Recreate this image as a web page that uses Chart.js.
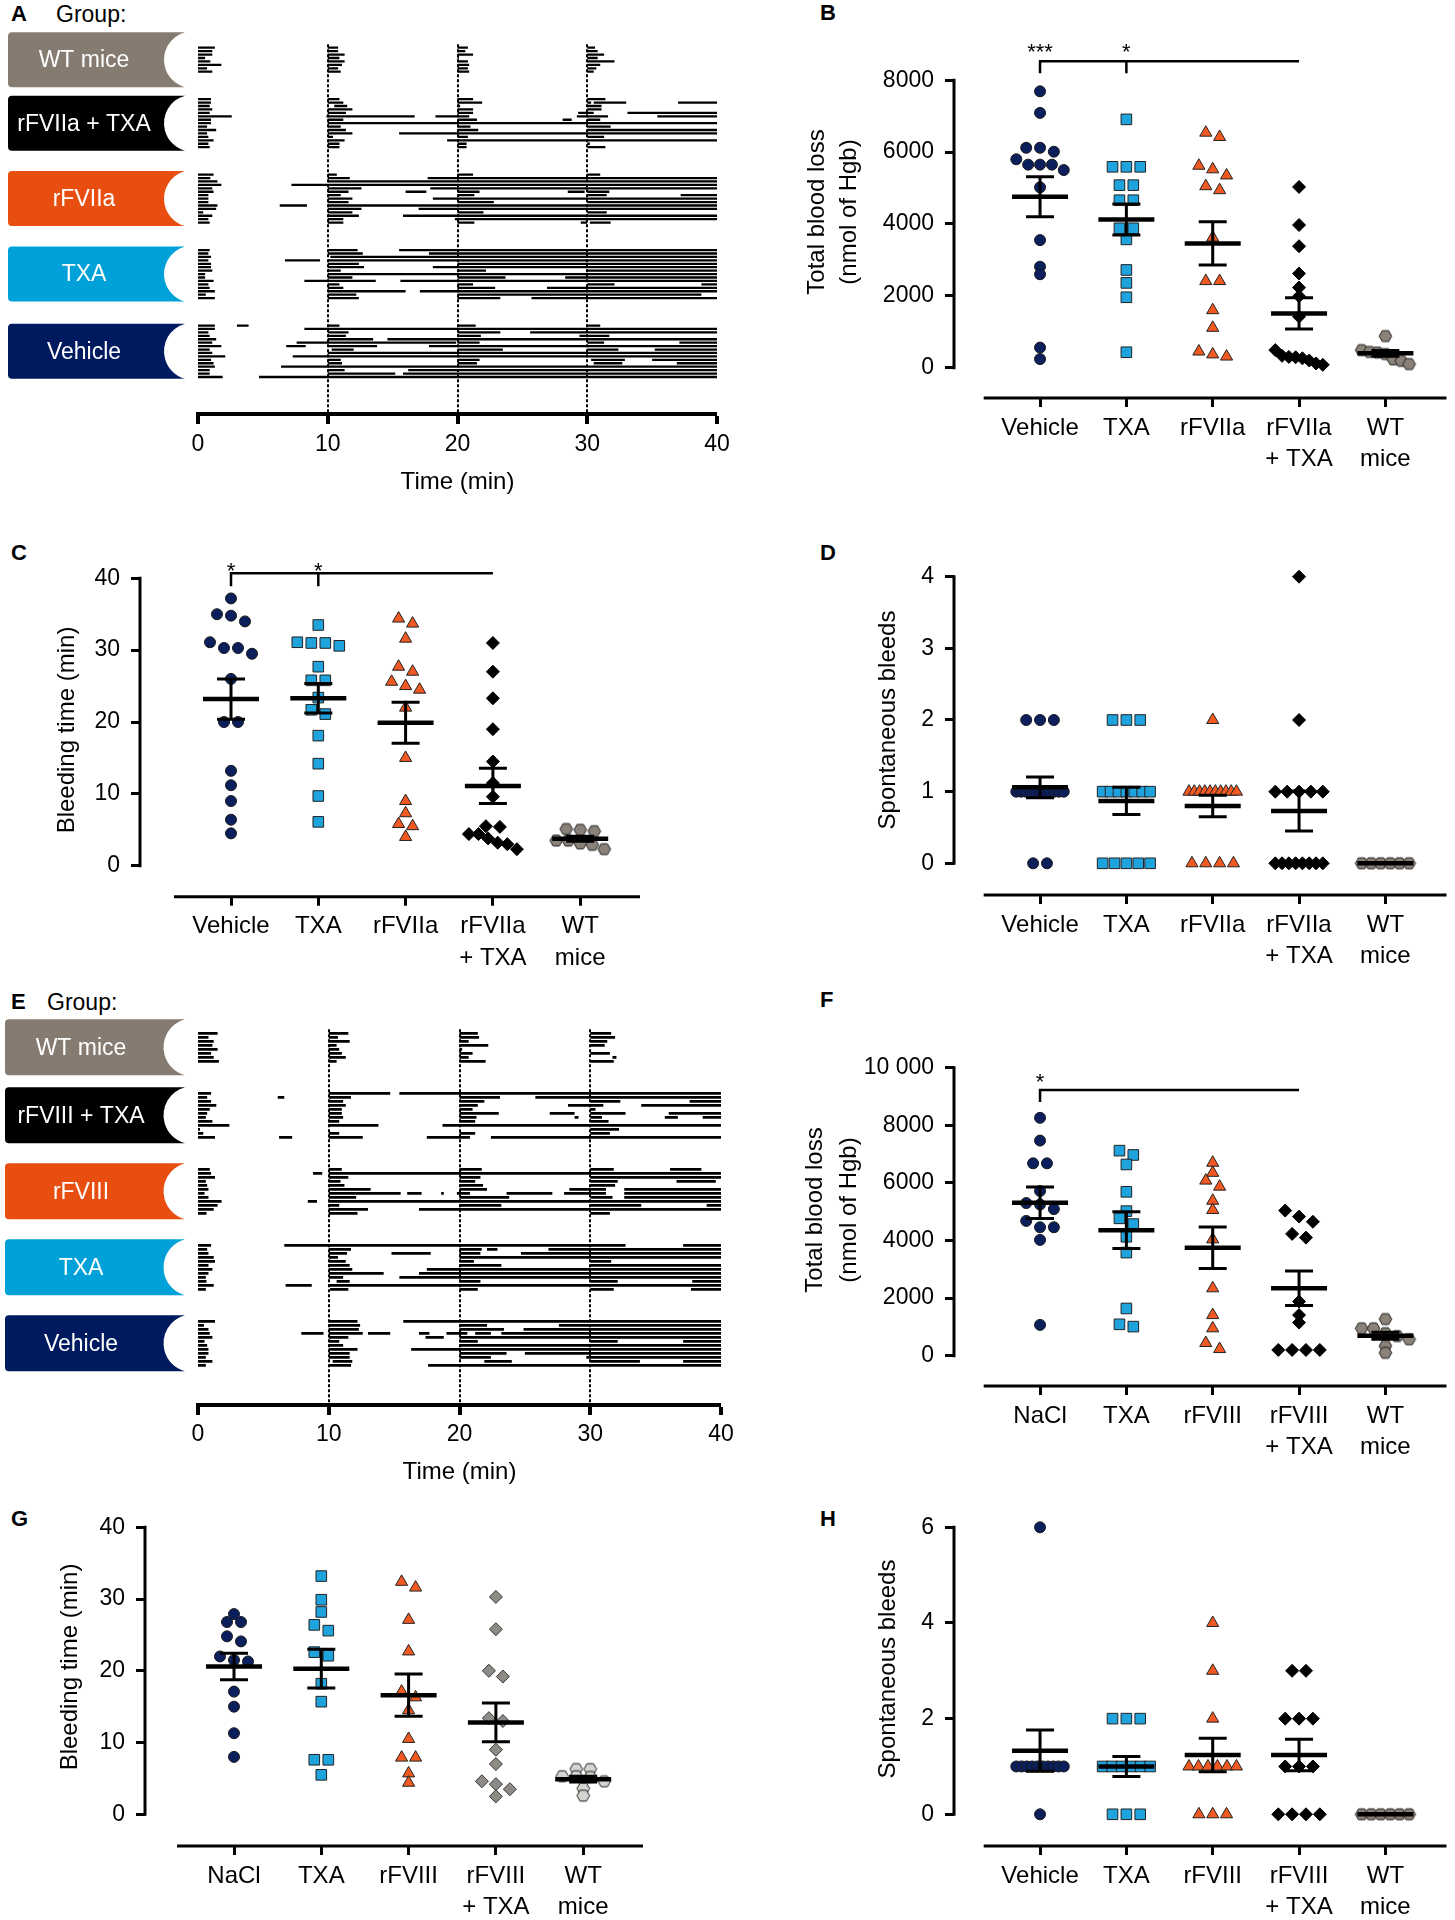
<!DOCTYPE html>
<html>
<head>
<meta charset="utf-8">
<script src="https://cdn.jsdelivr.net/npm/chart.js@4.4.1/dist/chart.umd.min.js"></script>
<style>
  body { margin: 0; background: #fff; width: 1455px; height: 1920px; position: relative; overflow: hidden;
         font-family: "Liberation Sans", Arial, sans-serif; color: #000; }
  canvas { position: absolute; }
  .letter { position: absolute; font-weight: bold; font-size: 22px; line-height: 22px; }
  .grp { position: absolute; font-size: 23px; line-height: 23px; }
</style>
</head>
<body>
<div class="letter" style="left:11px;top:3px">A</div>
<div class="grp" style="left:56px;top:3px">Group:</div>
<div class="letter" style="left:820px;top:2px">B</div>
<div class="letter" style="left:11px;top:542px">C</div>
<div class="letter" style="left:820px;top:542px">D</div>
<div class="letter" style="left:11px;top:991px">E</div>
<div class="grp" style="left:47px;top:991px">Group:</div>
<div class="letter" style="left:820px;top:989px">F</div>
<div class="letter" style="left:11px;top:1508px">G</div>
<div class="letter" style="left:820px;top:1508px">H</div>

<canvas id="chartA"></canvas>
<canvas id="chartB"></canvas>
<canvas id="chartC"></canvas>
<canvas id="chartD"></canvas>
<canvas id="chartE"></canvas>
<canvas id="chartF"></canvas>
<canvas id="chartG"></canvas>
<canvas id="chartH"></canvas>

<script>
// ---------- data ----------
// bleeding episodes per mouse, [start, end, start, end, ...] in minutes
const groupNamesA = ["WT mice", "rFVIIa + TXA", "rFVIIa", "TXA", "Vehicle"];
const groupNamesE = ["WT mice", "rFVIII + TXA", "rFVIII", "TXA", "Vehicle"];
const timeTicks = [0, 10, 20, 30, 40];

const rasterA_wt = [
  [0,1.3, 10,10.8, 20,20.8, 30,30.6],
  [0,1.1, 10,10.8, 20,20.6, 30,30.8],
  [0,1.1, 10,11.3, 20,21.2, 30,31.3],
  [0,0.55, 10,10.9, 20,20.1, 30,30.8],
  [0,0.95, 10,11.3, 20,20.8, 30,32.1],
  [0,1.8, 10,11.1, 20,20.9, 30,31.0],
  [0,0.7, 10,10.8, 20,20.8, 30,30.7],
  [0,1.1, 10,11.0, 20,20.9, 30,30.5]
];
const rasterA_rf7txa = [
  [0,1.0, 10,10.9, 20,21.2, 30,31.4],
  [0,1.0, 10,11.2, 20,21.9, 30,30.3, 30.5,33.0, 37.0,40],
  [0,0.9, 10.5,11.5, 20,20.2, 30,31.1],
  [0,1.1, 10,11.9, 20,21.2, 30,31.1],
  [0,0.9, 10,11.4, 20,21.2, 29.3,30.5, 33.1,40],
  [0,2.6, 9.9,16.7, 18.3,20.9, 29.2,31.6, 35.4,40],
  [0,1.0, 10,11.2, 20,21.5, 28.1,28.8, 30,31.0],
  [0,1.0, 10,40],
  [0,0.7, 10,11.0, 20,21.0, 30,31.8],
  [0,1.4, 10,11.4, 20,21.6, 30,40],
  [0,0.7, 10,11.9, 15.5,40],
  [0,0.8, 10,10.4, 20,20.8, 30,31.3],
  [0,1.2, 10,11.3, 19.2,40],
  [0,0.8, 10,10.9, 20,20.7, 30,30.2],
  [0,0.9, 10,10.9, 20,20.7, 30,31.4]
];
const rasterA_rf7 = [
  [0,1.2, 10,10.7, 20,21.2, 30,31.0],
  [0,0.95, 10,11.7, 17.7,40],
  [0,1.5, 10,40],
  [0,1.8, 7.2,40],
  [0,1.1, 10,12.6, 17.9,40],
  [0,1.2, 10,11.6, 16.0,17.6, 20,21.7, 28.5,29.8, 30,31.7],
  [0,0.8, 10,11.0, 20,21.3, 30,31.5, 37.2,40],
  [0,0.8, 10,11.9, 18.1,40],
  [0,0.8, 10,11.6, 20,22.8, 30,40],
  [0,1.5, 6.3,8.4, 10,40],
  [0,1.4, 10,12.6, 17.0,40],
  [0,0.4, 10,11.9, 20,22.0, 30,31.5],
  [0,1.1, 10,12.4, 15.8,40],
  [0,0.8, 10,11.2, 19.8,40],
  [0,0.9, 10,11.2, 20,21.3, 29.5,30, 30.2,31.8]
];
const rasterA_txa = [
  [0,0.9, 10,12.3, 15.5,40],
  [0,0.8, 10,12.7, 17.8,40],
  [0,1.0, 10.2,40],
  [0,0.8, 6.7,9.4, 10,40],
  [0,1.0, 10,12.4, 20,40],
  [0,1.0, 10,12.8, 18.1,40],
  [0,1.1, 10,11.0, 20,22.2, 30,40],
  [0,0.55, 10,40],
  [0,0.55, 10,11.9, 20,23.7, 28.3,40],
  [0,1.2, 8.2,13.7, 15.6,40],
  [0,0.8, 10,10.9, 20,21.2, 30,32.1, 38.8,40],
  [0,0.9, 10,11.2, 20,22.9, 26.9,40],
  [0,1.3, 10,16.0, 17.1,40],
  [0,0.6, 10,12.2, 20,38.8],
  [0,1.3, 10,12.4, 20,23.3, 25.7,40]
];
const rasterA_vehicle = [
  [0,1.3, 3.0,3.9, 10,10.9, 20,21.4, 30,31.0],
  [0,1.3, 8.2,40],
  [0,0.8, 10,11.6, 20,23.3, 25.6,40],
  [0,0.9, 10,11.4, 20,21.8, 29.4,31.7],
  [0,1.4, 10,13.5, 14.6,40],
  [0,1.1, 7.6,19.9, 20,21.7, 30,31.3, 37.1,40],
  [0,1.8, 6.8,8.3, 10,13.8, 17.8,40],
  [0,0.9, 10.3,12.0, 20,23.5, 30,32.4, 35.2,40],
  [0,1.1, 10,40],
  [0,2.1, 7.3,40],
  [0,1.0, 10,11.0, 20,21.7, 30.3,32.9, 35.0,40],
  [0,1.2, 10,11.1, 20,21.5, 30.5,32.7, 36.9,40],
  [0,1.3, 6.4,40],
  [0,0.9, 10,11.3, 16.2,40],
  [0,0.9, 10,15.2, 15.8,40],
  [0,1.9, 4.7,40]
];

const rasterE_wt = [
  [0,1.5, 10,11.5, 20,21.4, 30,31.6],
  [0,0.8, 10,10.7, 20,21.5, 30,31.9],
  [0,1.2, 10,11.6, 20,20.7, 30,31.3],
  [0,1.1, 10,10.6, 20,22.2, 30,31.1],
  [0,1.5, 10,10.8, 20,20.2],
  [0,1.0, 10,11.0, 20,21.0, 30,31.5],
  [0,1.2, 10,11.3, 20,20.7, 31.7,32.0],
  [0,1.6, 10,10.6, 20,22.0, 30,31.8]
];
const rasterE_rf8txa = [
  [0,1.0, 10,14.7, 15.4,40],
  [0,0.7, 6.1,6.6, 10,11.7, 20,23.1, 25.8,40],
  [0,1.0, 10,11.1, 20,21.9, 30,32.3, 37.6,40],
  [0,1.4, 10,11.3, 20,21.4, 28.3,31.0, 33.9,40],
  [0,0.9, 10,11.0, 20,21.0, 30,30.4],
  [0,0.7, 10,11.0, 20,23.0, 26.9,28.8, 30,32.7, 36.0,40],
  [0,0.6, 10,11.1, 20,21.3, 28.8,29.1, 30,30.9, 35.7,36.7, 38.6,40],
  [0,1.1, 10,10.8, 20,21.2, 30,31.4],
  [0,2.4, 10,13.8, 18.7,40],
  [0,0.15, 30,32.2],
  [0,0.4, 10,10.8, 20,21.2, 30,31.5],
  [0,1.3, 6.2,7.2, 10,12.6, 17.5,20.8, 22.4,40]
];
const rasterE_rf8 = [
  [0,0.9, 10,11.0, 20,21.7, 30,31.8, 36.1,38.5],
  [0,1.0, 8.8,9.5, 10,40],
  [0,1.3, 10,11.5, 20,21.6, 30,40],
  [0,0.6, 10,10.9, 20,21.2, 30,32.1, 36.6,39.6],
  [0,0.7, 10,11.2, 20,21.8, 30,31.9],
  [0,0.8, 10,13.2, 20,22.1, 28.4,31.2, 32.6,40],
  [0,0.5, 10,15.5, 16.0,17.1, 18.6,18.8, 19.8,20.8, 23.6,27.1, 28.0,31.2, 32.6,40],
  [0,0.8, 10,12.1, 20,23.8, 30,31.7, 32.6,40],
  [0,1.8, 8.4,9.1, 10,40],
  [0,1.5, 10,10.8, 20,23.2, 30,33.9, 38.9,40],
  [0,1.2, 10,13.0, 16.9,40],
  [0,0.65, 10,12.2, 30,31.5]
];
const rasterE_txa = [
  [0,1.0, 6.6,32.7, 37.1,40],
  [0,0.7, 10,11.7, 20,21.7, 22.1,22.9, 26.8,40],
  [0,0.8, 10,11.4, 14.8,17.8, 20,21.6, 24.7,40],
  [0,1.2, 10,10.7, 20,40],
  [0,1.3, 10,11.3, 20,21.1, 30,31.6],
  [0,0.8, 10,11.6, 20,23.2, 30,40],
  [0,1.1, 10,11.8, 17.5,40],
  [0,0.8, 10,14.2, 16.9,40],
  [0,0.6, 10,11.1, 15.4,40],
  [0,0.65, 10.6,11.6, 20,21.6, 30,32.1, 37.8,40],
  [0,1.2, 6.7,8.7, 10,40],
  [0,0.6, 10.1,11.5, 20,21.4, 30,31.8, 37.7,40]
];
const rasterE_vehicle = [
  [0,1.3, 10,12.2, 15.7,40],
  [0,0.45, 10,12.4, 20,22.1, 27.6,40],
  [0,0.8, 10,12.3, 20,23.4, 24.9,40],
  [0,0.9, 7.9,9.6, 10,12.6, 13.0,14.7, 16.9,17.7, 19.0,20.6, 21.2,22.4, 23.2,40],
  [0,1.1, 10,11.5, 17.4,18.8, 20,40],
  [0,0.5, 10,10.8, 20,21.4, 30,32.1, 37.1,40],
  [0,0.7, 10,11.1, 20,40],
  [0,0.8, 10,12.2, 16.3,40],
  [0,0.8, 10,11.6, 20,23.6, 25.0,40],
  [0,0.6, 10,11.6, 20,22.4, 29.7,40],
  [0,1.1, 10.3,11.8, 21.9,24.0, 30,33.8, 37.1,40],
  [0,0.6, 10,11.7, 17.6,40]
];

// dot plots
const catsVIIa = ["Vehicle", "TXA", "rFVIIa", ["rFVIIa", "+ TXA"], ["WT", "mice"]];
const catsVIIIn = ["NaCl", "TXA", "rFVIII", ["rFVIII", "+ TXA"], ["WT", "mice"]];
const catsVIIIv = ["Vehicle", "TXA", "rFVIII", ["rFVIII", "+ TXA"], ["WT", "mice"]];

// B: total blood loss (nmol of Hgb)
const b_vehicle = [7690, 7090, 6120, 6120, 6010, 5800, 5650, 5650, 5650, 5500, 5020, 3550, 2810, 2600, 560, 240];
const b_txa = [6910, 5590, 5590, 5590, 5080, 5080, 4660, 4660, 3880, 3880, 3570, 2720, 2360, 1960, 430];
const b_rf7 = [6540, 6420, 5620, 5520, 5350, 5050, 4940, 3620, 2410, 2410, 1600, 1110, 450, 370, 310];
const b_rf7txa = [5030, 3970, 3380, 2620, 2230, 1990, 1420, 490, 330, 300, 290, 260, 200, 120, 80];
const b_wt = [880, 490, 440, 420, 380, 230, 190, 100];
const meanB = [4755, 4125, 3457, 1511, 400];
const semB = [556, 430, 602, 436, 80];
const yTicksB = [0, 2000, 4000, 6000, 8000];

// C: bleeding time (min)
const c_vehicle = [37.2, 35.0, 34.8, 34.0, 31.1, 30.3, 30.3, 29.5, 26.0, 20.0, 20.0, 13.2, 11.2, 9.0, 6.4, 4.5];
const c_txa = [33.5, 31.1, 31.0, 31.0, 30.6, 27.7, 25.8, 25.8, 23.4, 21.7, 21.1, 18.1, 14.2, 9.7, 6.1];
const c_rf7 = [34.4, 33.7, 31.6, 27.7, 27.0, 25.6, 25.0, 24.5, 22.0, 15.0, 9.0, 7.3, 5.8, 5.5, 4.0];
const c_rf7txa = [31.0, 27.0, 23.3, 19.0, 14.5, 11.5, 9.6, 5.5, 5.4, 4.4, 4.4, 3.8, 3.2, 3.0, 2.3];
const c_wt = [5.1, 5.0, 4.8, 3.5, 3.5, 3.1, 2.9, 2.3];
const meanC = [23.2, 23.3, 19.9, 11.1, 3.75];
const semC = [2.8, 2.05, 2.85, 2.45, 0.35];
const yTicksC = [0, 10, 20, 30, 40];

// D: spontaneous bleeds
const d_vehicle = [2, 2, 2, 1, 1, 1, 1, 1, 1, 1, 1, 1, 1, 1, 0, 0];
const d_txa = [2, 2, 2, 1, 1, 1, 1, 1, 1, 1, 0, 0, 0, 0, 0];
const d_rf7 = [2, 1, 1, 1, 1, 1, 1, 1, 1, 1, 1, 0, 0, 0, 0];
const d_rf7txa = [4, 2, 1, 1, 1, 1, 1, 0, 0, 0, 0, 0, 0, 0, 0];
const d_wt = [0, 0, 0, 0, 0, 0];
const meanD = [1.06, 0.87, 0.80, 0.73, 0];
const semD = [0.145, 0.19, 0.15, 0.28, 0];
const yTicksD = [0, 1, 2, 3, 4];

// F: total blood loss, rFVIII study
const f_nacl = [8260, 7470, 6680, 6680, 5720, 5300, 5250, 5090, 4680, 4460, 4460, 4020, 1070];
const f_txa = [7120, 6970, 6640, 5690, 5020, 4770, 4570, 4130, 3580, 1640, 1090, 1010];
const f_rf8 = [6700, 6350, 6080, 5870, 5380, 5060, 4040, 2340, 1410, 950, 440, 230];
const f_rf8txa = [5040, 4830, 4650, 4230, 4100, 1880, 1410, 1150, 200, 200, 200, 200];
const f_wt = [1270, 950, 950, 780, 680, 570, 340, 100];
const meanF = [5310, 4360, 3750, 2340, 690];
const semF = [550, 635, 720, 600, 120];
const yTicksF = [0, 2000, 4000, 6000, 8000, 10000];

// G: bleeding time, rFVIII study
const g_nacl = [27.9, 26.8, 26.8, 24.8, 24.1, 22.0, 21.5, 21.3, 17.1, 15.0, 11.3, 8.0];
const g_txa = [33.2, 29.9, 28.2, 26.4, 25.6, 22.6, 22.1, 18.2, 15.7, 7.6, 7.6, 5.5];
const g_rf8 = [32.4, 31.6, 27.1, 22.7, 17.1, 16.3, 14.5, 10.5, 7.9, 7.9, 5.7, 4.4];
const g_rf8txa = [30.3, 25.8, 20.0, 19.2, 13.4, 13.0, 9.0, 7.0, 4.6, 4.2, 3.5, 2.5];
const g_wt = [6.3, 6.3, 5.3, 5.3, 5.2, 4.6, 3.6, 2.6];
const meanG = [20.6, 20.3, 16.6, 12.8, 4.9];
const semG = [1.85, 2.7, 2.95, 2.7, 0.4];
const yTicksG = [0, 10, 20, 30, 40];

// H: spontaneous bleeds, rFVIII study
const h_vehicle = [6, 1, 1, 1, 1, 1, 1, 1, 1, 1, 1, 0];
const h_txa = [2, 2, 2, 1, 1, 1, 1, 1, 1, 0, 0, 0];
const h_rf8 = [4, 3, 2, 1, 1, 1, 1, 1, 1, 0, 0, 0];
const h_rf8txa = [3, 3, 2, 2, 2, 1, 1, 1, 0, 0, 0, 0];
const h_wt = [0, 0, 0, 0, 0, 0];
const meanH = [1.33, 1.0, 1.24, 1.24, 0];
const semH = [0.43, 0.21, 0.35, 0.33, 0];
const yTicksH = [0, 2, 4, 6];

// ---------- drawing ----------
const FONT = '"Liberation Sans", Arial, sans-serif';
Chart.defaults.font.family = FONT;
Chart.defaults.color = "#000";

function hexagon(fill) {
  const c = document.createElement("canvas");
  c.width = 15; c.height = 15;
  const g = c.getContext("2d");
  g.beginPath();
  for (let k = 0; k < 6; k++) {
    const a = Math.PI / 3 * k;
    g.lineTo(7.5 + 6.3 * Math.cos(a), 7.5 + 6.3 * Math.sin(a));
  }
  g.closePath();
  g.fillStyle = fill; g.fill();
  g.lineWidth = 1; g.strokeStyle = "#222"; g.stroke();
  return c;
}

const NAVY = "#0b1f5c", BLUE = "#1fa3dd", ORANGE = "#f05a22";
const stylesStd = [
  { shape: "circle", r: 5.5, fill: NAVY, line: "#1a1a1a" },
  { shape: "rect", r: 7.5, fill: BLUE, line: "#222" },
  { shape: "triangle", r: 7, fill: ORANGE, line: "#222" },
  { shape: "rectRot", r: 6.5, fill: "#000", line: "#000" },
  { shape: hexagon("#8a8179"), r: 6, fill: "#8a8179", line: "#222" }
];
const stylesG = [
  stylesStd[0], stylesStd[1], stylesStd[2],
  { shape: "rectRot", r: 6.5, fill: "#8e8a85", line: "#333" },
  { shape: hexagon("#d6d4d0"), r: 6, fill: "#d6d4d0", line: "#222" }
];

// spread points with similar values into centred rows (Prism-like scatter)
function swarm(vals, cat, yUnit, xUnit) {
  const sorted = vals.slice().sort((a, b) => b - a);
  const rows = [];
  sorted.forEach(v => {
    const last = rows[rows.length - 1];
    if (last && (last[last.length - 1] - v) * yUnit < 6.5) last.push(v);
    else rows.push([v]);
  });
  const pts = [];
  rows.forEach(row => {
    const n = row.length;
    const gap = n > 1 ? Math.min(14, 48 / (n - 1)) : 0;
    row.forEach((v, k) => pts.push({ x: cat + (k - (n - 1) / 2) * gap / xUnit, y: v }));
  });
  return pts;
}

const prismPlugin = {
  id: "prism",
  afterDatasetsDraw(chart, args, o) {
    const { ctx, chartArea: ca, scales: { x, y } } = chart;
    ctx.save();
    ctx.strokeStyle = "#000";
    ctx.lineWidth = 3;
    ctx.beginPath();
    ctx.moveTo(ca.left, y.getPixelForValue(0) + 1.5);
    ctx.lineTo(ca.left, y.getPixelForValue(o.yTop) - 1.5);
    ctx.moveTo(x.getPixelForValue(o.lineFrom), ca.bottom);
    ctx.lineTo(ca.right, ca.bottom);
    ctx.stroke();

    o.means.forEach((m, i) => {
      const cx = x.getPixelForValue(i);
      const ym = y.getPixelForValue(m);
      const yt = y.getPixelForValue(m + o.sems[i]);
      const yb = y.getPixelForValue(m - o.sems[i]);
      ctx.lineWidth = 3;
      ctx.beginPath();
      ctx.moveTo(cx, yt); ctx.lineTo(cx, yb);
      ctx.moveTo(cx - 14, yt); ctx.lineTo(cx + 14, yt);
      ctx.moveTo(cx - 14, yb); ctx.lineTo(cx + 14, yb);
      ctx.stroke();
      ctx.lineWidth = 4.5;
      ctx.beginPath();
      ctx.moveTo(cx - 28, ym); ctx.lineTo(cx + 28, ym);
      ctx.stroke();
    });

    if (o.bracket) {
      const b = o.bracket;
      const by = y.getPixelForValue(b.y);
      ctx.lineWidth = 2.5;
      ctx.beginPath();
      ctx.moveTo(x.getPixelForValue(b.from), by);
      ctx.lineTo(x.getPixelForValue(b.to), by);
      b.drops.forEach(d => {
        ctx.moveTo(x.getPixelForValue(d), by - 1.25);
        ctx.lineTo(x.getPixelForValue(d), y.getPixelForValue(b.dropTo));
      });
      ctx.stroke();
      ctx.fillStyle = "#000";
      ctx.font = "22px " + FONT;
      ctx.textAlign = "center";
      ctx.textBaseline = "alphabetic";
      b.stars.forEach(s => ctx.fillText(s.t, x.getPixelForValue(s.x), y.getPixelForValue(b.starY) + 12.5));
    }

    ctx.fillStyle = "#000";
    ctx.font = "24px " + FONT;
    ctx.textAlign = "center";
    ctx.textBaseline = "middle";
    o.title.forEach((t, k) => {
      ctx.save();
      ctx.translate(o.titleX[k], o.titleY);
      ctx.rotate(-Math.PI / 2);
      ctx.fillText(t, 0, 0);
      ctx.restore();
    });
    ctx.restore();
  }
};

function dotPanel(id, cats, groups, means, sems, yTicks, styles, g, extra) {
  const el = document.getElementById(id);
  el.width = g.w; el.height = g.h;
  el.style.left = g.left + "px"; el.style.top = g.top + "px";
  const xMin = (g.axisX - g.cat0) / g.step;
  const xMax = (g.right - g.cat0) / g.step;
  const yTop = yTicks[yTicks.length - 1];
  const yUnit = (g.zeroPx - g.topPx) / yTop;
  const yMin = -(g.axisY - g.zeroPx) / yUnit;

  const datasets = groups.map((vals, i) => ({
    data: swarm(vals, i, yUnit, g.step),
    pointStyle: styles[i].shape,
    pointRadius: styles[i].r,
    pointBackgroundColor: styles[i].fill,
    pointBorderColor: styles[i].line,
    pointBorderWidth: 1,
    clip: false
  }));

  new Chart(el, {
    type: "scatter",
    data: { datasets },
    options: {
      responsive: false, animation: false, events: [],
      layout: { padding: { left: 0, top: g.topPx - g.top, right: g.left + g.w - g.right, bottom: 0 } },
      plugins: {
        legend: { display: false }, tooltip: { enabled: false },
        prism: {
          yTop, means, sems,
          lineFrom: (g.lineStart - g.cat0) / g.step,
          bracket: extra.bracket,
          title: extra.title,
          titleX: extra.titleX.map(v => v - g.left),
          titleY: extra.titleY - g.top
        }
      },
      scales: {
        x: {
          type: "linear", min: xMin, max: xMax,
          afterBuildTicks: s => { s.ticks = cats.map((c, i) => ({ value: i })); },
          afterFit: s => { s.height = g.top + g.h - g.axisY; },
          ticks: { callback: v => cats[v], font: { size: 24, lineHeight: 1.3 }, color: "#000",
                   padding: 5.5, maxRotation: 0, autoSkip: false },
          grid: { drawOnChartArea: false, drawTicks: true, tickLength: 9, lineWidth: 3, color: "#000" },
          border: { display: false }
        },
        y: {
          type: "linear", min: yMin, max: yTop,
          afterBuildTicks: s => { s.ticks = yTicks.map(v => ({ value: v })); },
          afterFit: s => { s.width = g.axisX - g.left; },
          ticks: { callback: v => (v === 10000 ? "10 000" : String(v)), font: { size: 23 }, color: "#000", padding: 11 },
          grid: { drawOnChartArea: false, drawTicks: true, tickLength: 9, lineWidth: 3, color: "#000" },
          border: { display: false }
        }
      }
    },
    plugins: [prismPlugin]
  });
}

const groupBoxPlugin = {
  id: "groupBoxes",
  beforeDatasetsDraw(chart, args, o) {
    const { ctx, scales: { y } } = chart;
    ctx.save();
    o.names.forEach((name, i) => {
      const cy = y.getPixelForValue(o.centers[i]);
      const hh = o.height / 2;
      const T = cy - hh, B = cy + hh, L = o.left, R = o.right;
      const cx = R + 7.5, r = Math.sqrt(7.5 * 7.5 + hh * hh);
      ctx.beginPath();
      ctx.moveTo(L + 4, T);
      ctx.lineTo(R, T);
      ctx.arc(cx, cy, r, Math.atan2(T - cy, R - cx), Math.atan2(B - cy, R - cx), true);
      ctx.lineTo(L + 4, B);
      ctx.arcTo(L, B, L, B - 4, 4);
      ctx.lineTo(L, T + 4);
      ctx.arcTo(L, T, L + 4, T, 4);
      ctx.closePath();
      ctx.fillStyle = o.colors[i];
      ctx.fill();
      ctx.fillStyle = "#fff";
      ctx.font = "23px " + FONT;
      ctx.textAlign = "center";
      ctx.textBaseline = "middle";
      ctx.fillText(name, o.textX, cy + 1);
    });
    ctx.restore();
  }
};

const boxColors = ["#857b71", "#000000", "#e84e0f", "#00a1d9", "#001a5f"];

function rasterPanel(id, groups, names, g) {
  const el = document.getElementById(id);
  el.width = g.w; el.height = g.h;
  el.style.left = g.left + "px"; el.style.top = g.top + "px";
  const pts = [];
  const centers = [];
  groups.forEach((rows, gi) => {
    const start = g.rowStarts[gi];
    centers.push(start + (rows.length - 1) / 2);
    rows.forEach((segs, ri) => {
      for (let k = 0; k < segs.length; k += 2) {
        pts.push({ x: segs[k], y: start + ri }, { x: segs[k + 1], y: start + ri }, { x: null, y: null });
      }
    });
  });
  const areaTop = g.row0 - g.rowStep;
  const yMax = (g.areaBottom - g.row0) / g.rowStep;

  new Chart(el, {
    type: "scatter",
    data: { datasets: [{ data: pts, showLine: true, spanGaps: false, borderColor: "#000",
                         borderWidth: g.barWidth, pointRadius: 0, clip: false }] },
    options: {
      responsive: false, animation: false, events: [],
      layout: { padding: { left: g.areaLeft - g.left, right: g.left + g.w - g.areaRight, top: areaTop - g.top, bottom: 0 } },
      plugins: {
        legend: { display: false }, tooltip: { enabled: false },
        groupBoxes: { names, centers, colors: boxColors, left: g.boxLeft, right: g.boxRight,
                      height: g.boxHeight, textX: g.textX }
      },
      scales: {
        x: {
          type: "linear", min: 0, max: 40,
          afterBuildTicks: s => { s.ticks = timeTicks.map(v => ({ value: v })); },
          afterFit: s => { s.height = g.top + g.h - g.areaBottom; },
          ticks: { font: { size: 23 }, color: "#000", padding: g.tickPad },
          grid: {
            drawOnChartArea: true, drawTicks: true, tickLength: 10, color: "#000", tickColor: "#000", tickWidth: 4,
            lineWidth: c => (c.tick && c.tick.value > 0 && c.tick.value < 40 ? 2 : 0)
          },
          border: { display: true, width: 4, color: "#000", dash: [3, 2] },
          title: { display: true, text: "Time (min)", font: { size: 24 }, color: "#000",
                   padding: { top: 0, bottom: g.titlePad } }
        },
        y: { type: "linear", display: false, reverse: true, min: -1, max: yMax }
      }
    },
    plugins: [groupBoxPlugin]
  });
}

rasterPanel("chartA", [rasterA_wt, rasterA_rf7txa, rasterA_rf7, rasterA_txa, rasterA_vehicle], groupNamesA, {
  left: 0, top: 0, w: 740, h: 500, areaLeft: 198, areaRight: 717, areaBottom: 414,
  row0: 47.7, rowStep: 3.43, rowStarts: [0, 15, 37, 59, 81], barWidth: 2.3,
  boxLeft: 8, boxRight: 185, boxHeight: 55, textX: 84, tickPad: 7.2, titlePad: 3.6
});
rasterPanel("chartE", [rasterE_wt, rasterE_rf8txa, rasterE_rf8, rasterE_txa, rasterE_vehicle], groupNamesE, {
  left: 0, top: 1010, w: 740, h: 490, areaLeft: 198, areaRight: 726, areaBottom: 1405,
  row0: 1033.3, rowStep: 4.0, rowStarts: [0, 15, 34, 53, 72], barWidth: 2.7,
  boxLeft: 5, boxRight: 185, boxHeight: 56, textX: 81, tickPad: 6.2, titlePad: 13.6
});

const rightCol = { axisX: 954, cat0: 1041, step: 87.3, right: 1452, lineStart: 984 };

dotPanel("chartB", catsVIIa, [b_vehicle, b_txa, b_rf7, b_rf7txa, b_wt], meanB, semB, yTicksB, stylesStd,
  Object.assign({ left: 780, top: 0, w: 675, h: 490, topPx: 80.2, zeroPx: 367.7, axisY: 398 }, rightCol),
  { title: ["Total blood loss", "(nmol of Hgb)"], titleX: [817, 849], titleY: 212,
    bracket: { from: 0, to: 3, y: 8530, drops: [0, 1], dropTo: 8196, starY: 8932,
               stars: [{ x: 0, t: "***" }, { x: 1, t: "*" }] } });

dotPanel("chartC", catsVIIa, [c_vehicle, c_txa, c_rf7, c_rf7txa, c_wt], meanC, semC, yTicksC, stylesStd,
  { left: 0, top: 520, w: 730, h: 460, axisX: 140, cat0: 231, step: 87.3, right: 640, lineStart: 174,
    topPx: 578.3, zeroPx: 865.7, axisY: 896.7 },
  { title: ["Bleeding time (min)"], titleX: [67], titleY: 730,
    bracket: { from: 0, to: 3, y: 40.7, drops: [0, 1], dropTo: 38.9, starY: 41.85,
               stars: [{ x: 0, t: "*" }, { x: 1, t: "*" }] } });

dotPanel("chartD", catsVIIa, [d_vehicle, d_txa, d_rf7, d_rf7txa, d_wt], meanD, semD, yTicksD, stylesStd,
  Object.assign({ left: 780, top: 520, w: 675, h: 460, topPx: 576.7, zeroPx: 863.3, axisY: 895 }, rightCol),
  { title: ["Spontaneous bleeds"], titleX: [888], titleY: 720 });

dotPanel("chartF", catsVIIIn, [f_nacl, f_txa, f_rf8, f_rf8txa, f_wt], meanF, semF, yTicksF, stylesStd,
  Object.assign({ left: 780, top: 980, w: 675, h: 490, topPx: 1067.7, zeroPx: 1355.7, axisY: 1386 }, rightCol),
  { title: ["Total blood loss", "(nmol of Hgb)"], titleX: [815, 849], titleY: 1210,
    bracket: { from: 0, to: 3, y: 9226, drops: [0], dropTo: 8806, starY: 9688,
               stars: [{ x: 0, t: "*" }] } });

dotPanel("chartG", catsVIIIn, [g_nacl, g_txa, g_rf8, g_rf8txa, g_wt], meanG, semG, yTicksG, stylesG,
  { left: 0, top: 1490, w: 730, h: 430, axisX: 145, cat0: 234, step: 87.3, right: 643, lineStart: 177,
    topPx: 1527.3, zeroPx: 1814.3, axisY: 1846 },
  { title: ["Bleeding time (min)"], titleX: [70], titleY: 1667 });

dotPanel("chartH", catsVIIIv, [h_vehicle, h_txa, h_rf8, h_rf8txa, h_wt], meanH, semH, yTicksH, stylesStd,
  Object.assign({ left: 780, top: 1490, w: 675, h: 430, topPx: 1527.3, zeroPx: 1814.3, axisY: 1846 }, rightCol),
  { title: ["Spontaneous bleeds"], titleX: [888], titleY: 1669 });
</script>
</body>
</html>
